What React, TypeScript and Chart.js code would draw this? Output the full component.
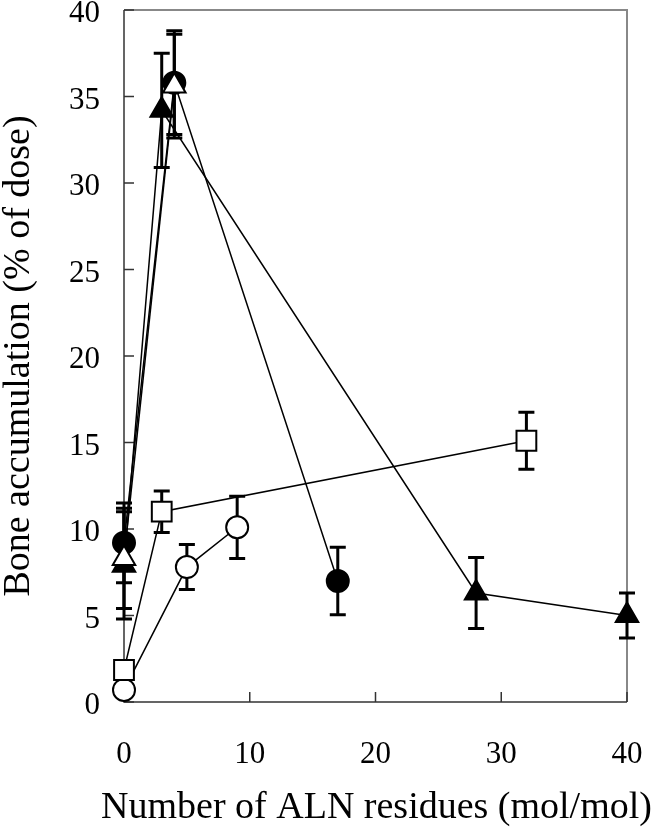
import React, { useEffect, useRef } from "react";
import { Chart, registerables } from "chart.js";

Chart.register(...registerables);

const FONT = "'Liberation Serif', 'Times New Roman', serif";

const xTicks = [0, 10, 20, 30, 40];
const yTicks = [0, 5, 10, 15, 20, 25, 30, 35, 40];
const xTitle = "Number of ALN residues (mol/mol)";
const yTitle = "Bone accumulation (% of dose)";

const openTriangleX = [0, 4];
const openTriangleY = [8.3, 35.6];
const openTriangleErr = [2.9, 3.0];

const filledCircleX = [0, 4, 17];
const filledCircleY = [9.2, 35.8, 7.0];
const filledCircleErr = [2.3, 3.0, 1.95];

const filledTriangleX = [0, 3, 28, 40];
const filledTriangleY = [7.9, 34.2, 6.3, 5.0];
const filledTriangleErr = [3.1, 3.3, 2.05, 1.3];

const openSquareX = [0, 3, 32];
const openSquareY = [1.85, 11.0, 15.1];
const openSquareErr = [0, 1.2, 1.65];

const openCircleX = [0, 5, 9];
const openCircleY = [0.7, 7.8, 10.1];
const openCircleErr = [0, 1.3, 1.8];

const toPoints = (xs: number[], ys: number[]) => xs.map((x, i) => ({ x, y: ys[i] }));

export default function App() {
  const ref = useRef<HTMLCanvasElement | null>(null);

  useEffect(() => {
    if (!ref.current) return;

    const seriesErr = [openTriangleErr, filledCircleErr, filledTriangleErr, openSquareErr, openCircleErr];

    const errorBars = {
      id: "errorBars",
      beforeDatasetsDraw(chart: any) {
        const ctx = chart.ctx;
        const xs = chart.scales.x;
        const ys = chart.scales.y;
        ctx.save();
        ctx.strokeStyle = "#000";
        ctx.lineWidth = 3;
        chart.data.datasets.forEach((ds: any, di: number) => {
          const errs = seriesErr[di];
          ds.data.forEach((p: any, i: number) => {
            const e = errs[i];
            if (!e) return;
            const px = xs.getPixelForValue(p.x);
            const top = ys.getPixelForValue(p.y + e);
            const bot = ys.getPixelForValue(p.y - e);
            ctx.beginPath();
            ctx.moveTo(px, top);
            ctx.lineTo(px, bot);
            ctx.moveTo(px - 8, top);
            ctx.lineTo(px + 8, top);
            ctx.moveTo(px - 8, bot);
            ctx.lineTo(px + 8, bot);
            ctx.stroke();
          });
        });
        ctx.restore();
      },
    };

    const frame = {
      id: "frame",
      beforeDatasetsDraw(chart: any) {
        const ctx = chart.ctx;
        const { left, right, top, bottom } = chart.chartArea;
        const xs = chart.scales.x;
        const ys = chart.scales.y;
        ctx.save();
        ctx.strokeStyle = "#888";
        ctx.lineWidth = 2;
        ctx.beginPath();
        ctx.moveTo(left, top);
        ctx.lineTo(right, top);
        ctx.lineTo(right, bottom);
        ctx.stroke();
        ctx.strokeStyle = "#333";
        ctx.lineWidth = 1.5;
        ctx.beginPath();
        ctx.moveTo(left, top);
        ctx.lineTo(left, bottom);
        ctx.lineTo(right, bottom);
        ctx.stroke();
        ctx.beginPath();
        yTicks.forEach((v) => {
          const py = ys.getPixelForValue(v);
          ctx.moveTo(left, py);
          ctx.lineTo(left + 10, py);
        });
        xTicks.forEach((v) => {
          const px = xs.getPixelForValue(v);
          ctx.moveTo(px, bottom);
          ctx.lineTo(px, bottom - 10);
        });
        ctx.stroke();
        ctx.restore();
      },
    };

    const texts = {
      id: "texts",
      afterDraw(chart: any) {
        const ctx = chart.ctx;
        const { left, right, top, bottom } = chart.chartArea;
        const xs = chart.scales.x;
        const ys = chart.scales.y;
        ctx.save();
        ctx.fillStyle = "#000";
        ctx.font = `31px ${FONT}`;
        ctx.textBaseline = "alphabetic";
        ctx.textAlign = "right";
        yTicks.forEach((v) => {
          const py = ys.getPixelForValue(v);
          ctx.fillText(String(v), left - 24, py + 12);
        });
        ctx.textAlign = "center";
        xTicks.forEach((v) => {
          const px = xs.getPixelForValue(v);
          ctx.fillText(String(v), px, bottom + 61);
        });
        ctx.font = `38px ${FONT}`;
        ctx.fillText(xTitle, (left + right) / 2 + 1, bottom + 116);
        ctx.translate(29, (top + bottom) / 2);
        ctx.rotate(-Math.PI / 2);
        ctx.fillText(yTitle, 0, 0);
        ctx.restore();
      },
    };

    const base = {
      borderColor: "#000",
      borderWidth: 1.5,
      pointBorderColor: "#000",
      pointBorderWidth: 2,
      showLine: true,
      tension: 0,
      clip: false,
    };

    const chart = new Chart(ref.current, {
      type: "scatter",
      data: {
        datasets: [
          { ...base, label: "open triangle", data: toPoints(openTriangleX, openTriangleY), pointStyle: "triangle", pointRadius: 13, pointBackgroundColor: "#fff" },
          { ...base, label: "filled circle", data: toPoints(filledCircleX, filledCircleY), pointStyle: "circle", pointRadius: 11, pointBackgroundColor: "#000" },
          { ...base, label: "filled triangle", data: toPoints(filledTriangleX, filledTriangleY), pointStyle: "triangle", pointRadius: 13, pointBackgroundColor: "#000" },
          { ...base, label: "open square", data: toPoints(openSquareX, openSquareY), pointStyle: "rect", pointRadius: 14, pointBackgroundColor: "#fff" },
          { ...base, label: "open circle", data: toPoints(openCircleX, openCircleY), pointStyle: "circle", pointRadius: 11, pointBackgroundColor: "#fff" },
        ],
      },
      options: {
        responsive: false,
        animation: false,
        layout: { autoPadding: false, padding: { top: 10, right: 24, left: 0, bottom: 0 } },
        plugins: { legend: { display: false }, tooltip: { enabled: false } },
        scales: {
          x: {
            type: "linear",
            min: 0,
            max: 40,
            afterBuildTicks: (s: any) => {
              s.ticks = xTicks.map((v) => ({ value: v }));
            },
            afterFit: (s: any) => {
              s.height = 126;
              s.paddingLeft = 0;
              s.paddingRight = 0;
            },
            grid: { display: false, drawTicks: false },
            border: { display: false },
            ticks: { display: false },
            title: { display: false, text: xTitle },
          },
          y: {
            type: "linear",
            min: 0,
            max: 40,
            afterBuildTicks: (s: any) => {
              s.ticks = yTicks.map((v) => ({ value: v }));
            },
            afterFit: (s: any) => {
              s.width = 124;
              s.paddingTop = 0;
              s.paddingBottom = 0;
            },
            grid: { display: false, drawTicks: false },
            border: { display: false },
            ticks: { display: false },
            title: { display: false, text: yTitle },
          },
        },
      },
      plugins: [frame, errorBars, texts],
    } as any);

    return () => chart.destroy();
  }, []);

  return (
    <div style={{ position: "fixed", left: 0, top: 0, width: 651, height: 828, background: "#fff" }}>
      <canvas ref={ref} width={651} height={828} style={{ display: "block" }} />
    </div>
  );
}
